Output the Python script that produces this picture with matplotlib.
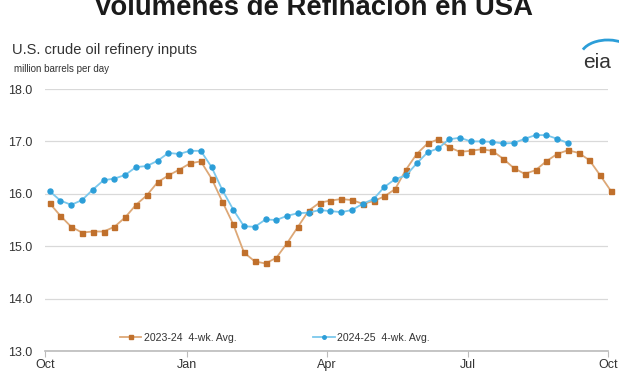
import matplotlib
matplotlib.use("Agg")
import matplotlib.pyplot as plt
import numpy as np
from matplotlib.patches import Arc

plt.rcParams['font.family'] = ['Liberation Sans', 'DejaVu Sans']

title = "Volúmenes de Refinación en USA"
subtitle = "U.S. crude oil refinery inputs"
units = "million barrels per day"
source = "Data source: U.S. Energy Information Administration"

month_ticks = [0, 92, 183, 274, 365]
month_labels = ["Oct", "Jan", "Apr", "Jul", "Oct"]
y_ticks = [13.0, 14.0, 15.0, 16.0, 17.0, 18.0]

first_day = 3
week_step = 7

s2324 = [15.82, 15.58, 15.37, 15.26, 15.28, 15.28, 15.37, 15.55, 15.79, 15.97,
         16.22, 16.35, 16.46, 16.58, 16.62, 16.29, 15.85, 15.42, 14.88, 14.71,
         14.67, 14.78, 15.06, 15.37, 15.68, 15.83, 15.87, 15.90, 15.88, 15.81,
         15.86, 15.95, 16.09, 16.46, 16.76, 16.96, 17.04, 16.89, 16.80, 16.82,
         16.85, 16.82, 16.67, 16.49, 16.38, 16.45, 16.62, 16.76, 16.83, 16.78,
         16.64, 16.35, 16.05]
s2425 = [16.05, 15.87, 15.79, 15.88, 16.08, 16.26, 16.29, 16.36, 16.51, 16.53,
         16.63, 16.78, 16.76, 16.82, 16.82, 16.51, 16.07, 15.70, 15.38, 15.37,
         15.51, 15.50, 15.58, 15.63, 15.64, 15.69, 15.67, 15.65, 15.69, 15.81,
         15.90, 16.13, 16.28, 16.35, 16.58, 16.79, 16.87, 17.04, 17.07, 17.00,
         17.00, 16.99, 16.96, 16.97, 17.05, 17.12, 17.12, 17.05, 16.97]
labels = ["2023-24  4-wk. Avg.", "2024-25  4-wk. Avg."]

x1 = first_day + week_step * np.arange(len(s2324))
x2 = first_day + week_step * np.arange(len(s2425))

fig = plt.figure(figsize=(6.27, 3.76), dpi=100)
ax = fig.add_axes([45/627, 1-351/376, (608-45)/627, (351-89)/376])

orange_line = "#DDA877"
orange_mk = "#C0702C"
blue_line = "#7CC8EC"
blue_mk = "#2C9ED8"

l1, = ax.plot(x1, s2324, color=orange_line, lw=1.3, marker='s', ms=3.6,
              mfc=orange_mk, mec=orange_mk, label=labels[0], zorder=3,
              clip_on=False)
l2, = ax.plot(x2, s2425, color=blue_line, lw=1.3, marker='o', ms=3.6,
              mfc=blue_mk, mec=blue_mk, label=labels[1], zorder=4,
              clip_on=False)

ax.set_xlim(0, 365)
ax.set_ylim(13, 18)
ax.set_yticks(y_ticks)
ax.set_yticklabels([f"{v:.1f}" for v in y_ticks])
ax.set_xticks(month_ticks)
ax.set_xticklabels(month_labels)
ax.grid(axis='y', color='#D9D9D9', lw=0.9)
ax.set_axisbelow(True)
for s in ['top', 'right', 'left']:
    ax.spines[s].set_visible(False)
ax.spines['bottom'].set_color('#BBBBBB')
ax.spines['bottom'].set_linewidth(1.2)
ax.tick_params(axis='y', length=0, labelsize=9, colors='#333333', pad=9)
ax.tick_params(axis='x', length=4, color='#BBBBBB', labelsize=9,
               colors='#333333', pad=2)

leg = ax.legend(loc='center left', bbox_to_anchor=((120-45)/563, (351-338)/262),
                ncol=2, frameon=False, fontsize=7.6, handlelength=2.0,
                columnspacing=7.3, handletextpad=0.25, borderpad=0,
                borderaxespad=0, markerscale=0.7)
for t in leg.get_texts():
    t.set_color('#333333')

fig.text(0.5, 1.012, title, ha='center', va='top', fontsize=19.8,
         fontweight='bold', color='#1a1a1a')
fig.text(12/627, 1-50/376, subtitle, ha='left', va='center', fontsize=10.5,
         color='#333333')
fig.text(14/627, 1-69/376, units, ha='left', va='center', fontsize=7,
         color='#333333')
fig.text(5/627, 1-381/376, source, ha='left', va='center', fontsize=8,
         color='#999999')

# eia logo
fig.text(597/627, 1-62/376, "eia", ha='center', va='center', fontsize=15,
         color='#333333')
lax = fig.add_axes([574/627, 1-56/376, 45/627, 20/376])
lax.set_xlim(0, 1)
lax.set_ylim(0, 1)
lax.axis('off')
lax.add_patch(Arc((0.75, 0.0), 1.2, 1.6, theta1=25, theta2=150,
                  color='#2C9ED8', lw=2.0))

fig.savefig("out.png", dpi=100)
